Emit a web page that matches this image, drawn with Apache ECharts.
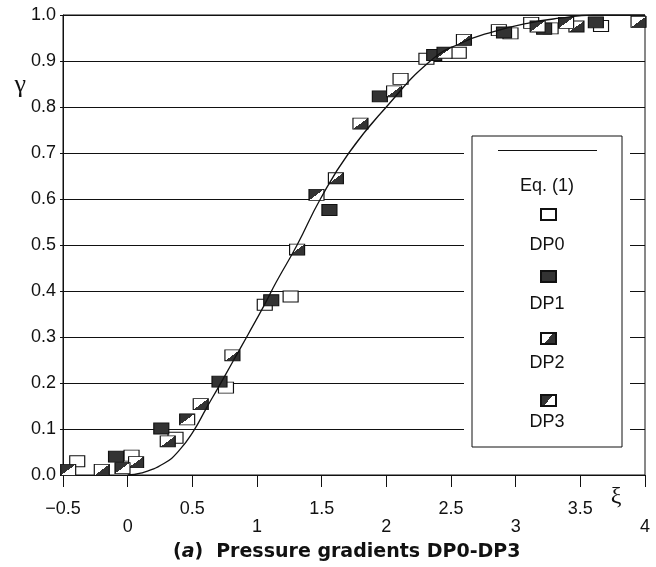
<!DOCTYPE html>
<html>
<head>
<meta charset="utf-8">
<title>Pressure gradients DP0-DP3</title>
<script src="https://cdn.jsdelivr.net/npm/echarts@6/dist/echarts.min.js"></script>
<style>
  html, body { margin: 0; padding: 0; background: #fff; }
  #chart { width: 656px; height: 567px; }
</style>
</head>
<body>
<div id="chart"></div>
<script>
// Eq. (1) curve
const eqX = [0.0, 0.1, 0.28, 0.4, 0.51, 0.61, 0.7, 0.82, 0.93, 1.05, 1.15, 1.31, 1.49, 1.71, 2.0, 2.34, 2.57, 2.83, 3.09, 3.34, 3.6, 4.0]
const eqY = [0.0, 0.004, 0.025, 0.054, 0.096, 0.146, 0.19, 0.25, 0.305, 0.366, 0.42, 0.5, 0.6, 0.7, 0.8, 0.9, 0.938, 0.964, 0.982, 0.993, 1.0, 1.0]

// measured points [xi, gamma]
const dp0 = [[-0.39, 0.03], [0.03, 0.042], [0.37, 0.081], [0.76, 0.19], [1.06, 0.37], [1.26, 0.388],
  [2.11, 0.861], [2.31, 0.905], [2.56, 0.918], [2.87, 0.967], [2.96, 0.96], [3.12, 0.983], [3.27, 0.971], [3.66, 0.976]]
const dp1 = [[-0.09, 0.04], [0.26, 0.101], [0.71, 0.203], [1.11, 0.38], [1.56, 0.576], [1.95, 0.823],
  [2.37, 0.913], [2.91, 0.962], [3.22, 0.97], [3.62, 0.984]]
const dp2 = [[-0.2, 0.011], [0.065, 0.028], [0.31, 0.073], [0.565, 0.154], [0.81, 0.26], [1.31, 0.49],
  [1.61, 0.645], [1.8, 0.764], [2.06, 0.834], [2.6, 0.946], [3.47, 0.975], [3.95, 0.985]]
const dp3 = [[-0.46, 0.011], [-0.04, 0.015], [0.46, 0.121], [1.46, 0.609], [2.45, 0.918], [3.17, 0.975], [3.39, 0.983]]

const legendNames = ['Eq. (1)', 'DP0', 'DP1', 'DP2', 'DP3']
const titleText = 'Pressure gradients DP0-DP3'

const ink = '#111'
const dark = '#333'
const sans = 'Liberation Sans, Arial, sans-serif'
const serif = 'Liberation Serif, Times New Roman, serif'

// half filled squares
function halfFill (first, second) {
  return new echarts.graphic.LinearGradient(0, 0, 1, 1, [
    { offset: 0, color: first }, { offset: 0.5, color: first },
    { offset: 0.5, color: second }, { offset: 1, color: second }
  ])
}

function markSeries (name, data, color) {
  return {
    name,
    type: 'scatter',
    data,
    symbol: 'rect',
    symbolSize: [15, 11],
    itemStyle: { color, borderColor: ink, borderWidth: 1, opacity: 1 },
    emphasis: { disabled: true },
    z: 3
  }
}

const chart = echarts.init(document.getElementById('chart'), null, { renderer: 'canvas' })

const option = {
  animation: false,
  backgroundColor: '#fff',
  title: {
    text: '{p|(}{i|a}{p|)}{g|}{p|' + titleText + '}',
    left: 173,
    top: 543,
    padding: 0,
    textStyle: {
      rich: {
        p: { fontFamily: 'DejaVu Sans', fontWeight: 'bold', fontSize: 19, color: ink },
        i: { fontFamily: 'DejaVu Sans', fontWeight: 'bold', fontStyle: 'italic', fontSize: 19, color: ink },
        g: { width: 13 }
      }
    }
  },
  grid: { left: 63, right: 11, top: 15, bottom: 92, show: true, borderColor: ink, borderWidth: 1, outerBoundsMode: 'none' },
  xAxis: {
    type: 'value',
    min: -0.5,
    max: 4,
    interval: 0.5,
    name: 'ξ',
    nameLocation: 'end',
    nameGap: -29,
    nameTextStyle: { fontFamily: serif, fontSize: 24, color: ink, align: 'center', verticalAlign: 'top', padding: [10, 0, 0, 0] },
    axisLine: { onZero: false, lineStyle: { color: ink, width: 1 } },
    axisTick: { show: true, length: 12, lineStyle: { color: ink } },
    axisLabel: {
      margin: 25,
      fontFamily: sans,
      fontSize: 18,
      lineHeight: 18,
      color: ink,
      // staggered labels: whole numbers on the second row
      formatter (v) {
        const s = v < 0 ? '\u2212' + Math.abs(v) : String(v)
        return Number.isInteger(v) ? '\n' + s : s
      }
    },
    splitLine: { show: false }
  },
  yAxis: {
    type: 'value',
    min: 0,
    max: 1,
    interval: 0.1,
    name: 'γ',
    nameLocation: 'end',
    nameGap: -75,
    nameTextStyle: { fontFamily: serif, fontSize: 26, color: ink, align: 'right', verticalAlign: 'middle', padding: [0, 37, 0, 0] },
    axisLine: { onZero: false, lineStyle: { color: ink, width: 1 } },
    axisTick: { show: true, length: 3, lineStyle: { color: ink } },
    axisLabel: { margin: 7, fontFamily: sans, fontSize: 18, color: ink, formatter: v => v.toFixed(1) },
    splitLine: { show: true, lineStyle: { color: ink, width: 1 } }
  },
  // white gap round the legend box
  graphic: [{
    type: 'rect',
    left: 464,
    top: 136,
    shape: { width: 166, height: 317 },
    style: { fill: '#fff' },
    z: 3
  }],
  legend: [
    {
      id: 'labels',
      orient: 'vertical',
      left: 472,
      top: 136,
      padding: [40, 30, 16, 25],
      itemGap: 40,
      itemWidth: 0,
      itemHeight: 20,
      backgroundColor: '#fff',
      borderColor: ink,
      borderWidth: 1,
      selectedMode: false,
      data: legendNames.map(n => ({ name: n, icon: 'none' })),
      formatter: n => '{c|' + n + '}',
      textStyle: {
        rich: { c: { width: 90, align: 'center', fontFamily: sans, fontSize: 18, lineHeight: 20, color: ink } }
      },
      z: 5
    },
    {
      id: 'line',
      left: 498,
      top: 150,
      padding: 0,
      itemWidth: 99,
      itemHeight: 1,
      selectedMode: false,
      data: [{ name: 'Eq. (1)', icon: 'rect' }],
      formatter: () => '',
      textStyle: { fontSize: 1, lineHeight: 1 },
      z: 6
    },
    {
      id: 'marks',
      orient: 'vertical',
      left: 540,
      top: 208,
      padding: 0,
      itemGap: 49,
      itemWidth: 15,
      itemHeight: 11,
      selectedMode: false,
      data: legendNames.slice(1).map(n => ({ name: n, icon: 'rect' })),
      formatter: () => '',
      textStyle: { fontSize: 8, lineHeight: 8 },
      z: 6
    }
  ],
  series: [
    markSeries('DP0', dp0, '#fff'),
    markSeries('DP1', dp1, dark),
    markSeries('DP2', dp2, halfFill('#fff', dark)),
    markSeries('DP3', dp3, halfFill(dark, '#fff')),
    {
      name: 'Eq. (1)',
      type: 'line',
      data: eqX.map((x, i) => [x, eqY[i]]),
      smooth: 0.5,
      symbol: 'none',
      lineStyle: { color: ink, width: 1.3 },
      itemStyle: { color: ink },
      emphasis: { disabled: true },
      z: 4
    }
  ]
}

chart.setOption(option)
</script>
</body>
</html>
